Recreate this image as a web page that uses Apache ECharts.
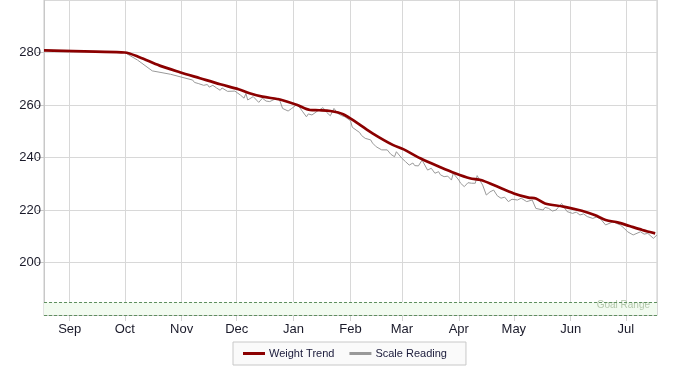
<!DOCTYPE html>
<html>
<head>
<meta charset="utf-8">
<script src="https://cdn.jsdelivr.net/npm/echarts@6/dist/echarts.min.js"></script>
<style>html,body{margin:0;padding:0;background:#fff;}#c{width:700px;height:380px;}</style>
</head>
<body>
<div id="c"></div>
<script>
var monthNames = ['Jan','Feb','Mar','Apr','May','Jun','Jul','Aug','Sep','Oct','Nov','Dec'];
var yTicks = [180, 200, 220, 240, 260, 280, 300];
var goalRange = [180, 185];

var trendDates = ['2012-08-18','2012-09-15','2012-10-01','2012-10-09','2012-10-20','2012-10-31','2012-11-11','2012-11-22','2012-12-02','2012-12-08','2012-12-15','2012-12-23','2012-12-26','2013-01-03','2013-01-10','2013-01-15','2013-01-21','2013-01-28','2013-02-05','2013-02-13','2013-02-24','2013-03-02','2013-03-11','2013-03-22','2013-03-30','2013-04-07','2013-04-13','2013-04-20','2013-05-01','2013-05-09','2013-05-13','2013-05-18','2013-05-28','2013-06-07','2013-06-14','2013-06-20','2013-06-27','2013-07-03','2013-07-10','2013-07-17'];
var trendValues = [280.8,280.3,280.0,278.2,275.0,272.5,270.2,267.9,266.0,264.5,263.2,262.3,261.8,260.0,258.1,258.0,257.7,256.5,253.0,249.2,244.8,243.1,239.7,236.3,234.0,232.1,231.4,229.5,226.3,224.7,224.4,222.5,221.3,219.7,218.1,216.2,215.2,213.9,212.4,211.1];

var scaleDates = ['2012-08-18','2012-10-01','2012-10-08','2012-10-16','2012-10-26','2012-11-07','2012-11-08','2012-11-10','2012-11-11','2012-11-13','2012-11-15','2012-11-16','2012-11-18','2012-11-20','2012-11-22','2012-11-23','2012-11-26','2012-11-27','2012-11-30','2012-12-03','2012-12-05','2012-12-06','2012-12-07','2012-12-10','2012-12-13','2012-12-15','2012-12-17','2012-12-19','2012-12-20','2012-12-22','2012-12-24','2012-12-26','2012-12-29','2012-12-31','2013-01-03','2013-01-06','2013-01-08','2013-01-09','2013-01-11','2013-01-14','2013-01-17','2013-01-19','2013-01-21','2013-01-23','2013-01-25','2013-01-27','2013-01-29','2013-02-01','2013-02-02','2013-02-04','2013-02-06','2013-02-07','2013-02-09','2013-02-10','2013-02-12','2013-02-13','2013-02-15','2013-02-16','2013-02-18','2013-02-19','2013-02-21','2013-02-23','2013-02-25','2013-02-26','2013-03-01','2013-03-03','2013-03-05','2013-03-07','2013-03-08','2013-03-10','2013-03-12','2013-03-15','2013-03-17','2013-03-19','2013-03-21','2013-03-22','2013-03-24','2013-03-26','2013-03-28','2013-03-29','2013-04-01','2013-04-02','2013-04-04','2013-04-06','2013-04-08','2013-04-10','2013-04-11','2013-04-14','2013-04-16','2013-04-18','2013-04-20','2013-04-22','2013-04-24','2013-04-26','2013-04-28','2013-04-30','2013-05-03','2013-05-05','2013-05-08','2013-05-11','2013-05-13','2013-05-17','2013-05-18','2013-05-20','2013-05-22','2013-05-24','2013-05-27','2013-05-30','2013-06-02','2013-06-04','2013-06-06','2013-06-08','2013-06-10','2013-06-11','2013-06-13','2013-06-15','2013-06-17','2013-06-20','2013-06-24','2013-06-28','2013-06-30','2013-07-02','2013-07-05','2013-07-09','2013-07-11','2013-07-13','2013-07-16','2013-07-18'];
var scaleValues = [280.9,280.0,277.1,273.0,271.7,269.5,268.6,268.2,268.9,267.5,267.8,266.8,267.5,266.5,265.6,266.5,265.2,265.1,265.3,263.8,262.6,264.4,261.9,263.2,261.0,262.6,261.5,261.3,262.0,262.3,262.6,258.7,257.7,258.7,260.3,257.4,255.5,256.6,256.2,257.7,259.0,257.2,255.9,258.7,256.8,256.0,255.5,254.0,251.5,250.5,249.5,248.4,247.3,248.0,246.7,245.5,244.1,244.6,242.9,243.6,242.9,241.2,240.3,242.2,239.7,238.4,237.1,237.9,236.9,236.8,239.0,235.2,235.9,234.0,234.6,233.4,232.7,232.9,231.4,234.0,231.4,230.2,228.9,230.4,230.2,230.2,233.1,229.5,225.7,226.9,227.6,225.4,224.5,224.9,223.2,224.1,223.8,224.5,223.2,223.8,220.6,220.0,221.0,220.6,219.6,220.0,222.5,219.4,218.7,219.2,218.1,218.5,217.5,216.9,216.8,217.3,216.8,214.3,215.5,214.3,213.1,211.7,210.5,211.7,210.8,211.1,209.2,210.5];

function zip(d, v) { return d.map(function (x, i) { return [x, v[i]]; }); }

var chart = echarts.init(document.getElementById('c'), null, { renderer: 'canvas' });
var DAY = 24 * 3600 * 1000;
chart.setOption({
  animation: false,
  textStyle: { fontFamily: 'Liberation Sans, Arial, sans-serif' },
  grid: { left: 44, right: 43, top: 0, bottom: 65, show: true, borderColor: '#c8c8c8', borderWidth: 1, containLabel: false },
  legend: {
    data: ['Weight Trend', 'Scale Reading'],
    left: 233, top: 342,
    padding: [6, 19, 6, 10],
    itemGap: 15,
    itemWidth: 22, itemHeight: 3,
    icon: 'rect',
    backgroundColor: '#fafafa',
    borderColor: '#c8c8c8', borderWidth: 1, borderRadius: 0,
    textStyle: { fontSize: 11, color: '#1a1a3a', padding: [0, 0, 0, -1] }
  },
  xAxis: {
    type: 'time',
    min: '2012-08-18', max: '2013-07-18',
    splitNumber: 11,
    minInterval: 28 * DAY, maxInterval: 31 * DAY,
    axisLine: { lineStyle: { color: '#c8c8c8' } },
    axisTick: { show: true, length: 6, lineStyle: { color: '#d4d4d4' } },
    splitLine: { show: true, lineStyle: { color: '#d8d8d8' } },
    axisLabel: {
      showMinLabel: false, showMaxLabel: false,
      color: '#1a1a2a', fontSize: 13, margin: 8,
      formatter: function (v) { return monthNames[new Date(v).getMonth()]; }
    }
  },
  yAxis: {
    type: 'value', min: yTicks[0], max: yTicks[yTicks.length - 1], interval: 20,
    axisLine: { show: true, lineStyle: { color: '#c8c8c8' } },
    axisTick: { show: true, length: 7, lineStyle: { color: '#c8c8c8' } },
    splitLine: { show: true, lineStyle: { color: '#d8d8d8' } },
    axisLabel: { showMinLabel: false, showMaxLabel: false, color: '#1a1a2a', fontSize: 13, margin: 3 }
  },
  series: [
    {
      name: 'Weight Trend', type: 'line', z: 4,
      data: zip(trendDates, trendValues),
      showSymbol: false, symbol: 'none', smooth: 0.3,
      lineStyle: { color: '#8b0000', width: 2.7 },
      itemStyle: { color: '#8b0000' }
    },
    {
      name: 'Scale Reading', type: 'line', z: 3,
      data: zip(scaleDates, scaleValues),
      showSymbol: false, symbol: 'none',
      lineStyle: { color: '#999999', width: 1 },
      itemStyle: { color: '#999999' },
      markArea: {
        silent: true,
        itemStyle: { color: '#f2fbf0' },
        label: { show: true, position: 'insideBottomRight', color: '#b4c8ac', fontSize: 10, offset: [-2, 0] },
        data: [[{ name: 'Goal Range', yAxis: goalRange[0] }, { yAxis: goalRange[1] }]]
      },
      markLine: {
        silent: true, symbol: 'none',
        label: { show: false },
        lineStyle: { color: '#5f8f5f', type: [3, 2], width: 1 },
        data: [{ yAxis: goalRange[0] }, { yAxis: goalRange[1] }]
      }
    }
  ]
});
</script>
</body>
</html>
